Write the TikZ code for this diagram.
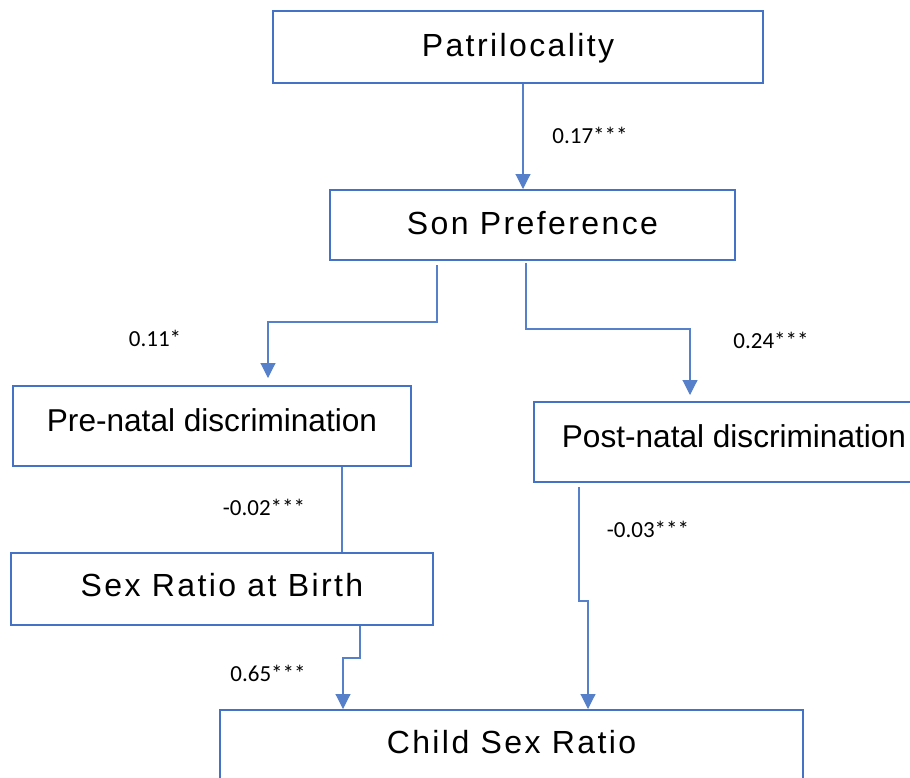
\documentclass[tikz,border=0pt]{standalone}
\usepackage{fontspec}
\setmainfont{Liberation Sans}
\newfontfamily\spacedfont[LetterSpace=7.5]{Liberation Sans}
\newfontfamily\labelfont{Carlito}
\usetikzlibrary{arrows.meta}
\definecolor{boxblue}{HTML}{4472C4}
\tikzset{
  caixa/.style={draw=boxblue,line width=2pt,inner sep=0pt,font=\fontsize{31.6}{32}\selectfont},
  largo/.style={caixa,font=\spacedfont\fontsize{32}{32}\selectfont},
  ligacao/.style={draw=boxblue!90,line width=1.1pt},
  seta/.style={ligacao,-{Triangle[width=15pt,length=15pt]}},
  coef/.style={font=\labelfont\fontsize{23}{23}\selectfont}
}
\begin{document}
\begin{tikzpicture}[x=1pt,y=-1pt]
\useasboundingbox (0,0) rectangle (910,777);
%caixas
  \node[largo,minimum width=490pt,minimum height=72pt,text height=23pt,text depth=4pt] (patri) at (518,47) {Patrilocality};
  \node[largo,minimum width=405pt,minimum height=70pt,text height=23pt,text depth=5pt] (son) at (532.5,225) {Son Preference};
  \node[caixa,minimum width=398pt,minimum height=80pt,text height=23pt,text depth=12pt] (pre) at (212,426) {Pre-natal discrimination};
  \node[caixa,minimum width=400pt,minimum height=80pt,text height=23pt,text depth=12pt] (post) at (734,442) {Post-natal discrimination};
  \node[largo,minimum width=422pt,minimum height=72pt,text height=23pt,text depth=8pt] (sexratio) at (222,589) {Sex Ratio at Birth};
  \node[largo,minimum width=583pt,minimum height=72pt,text height=23pt,text depth=8pt] (child) at (511.5,746) {Child Sex Ratio};
%ligacoes
  \draw[seta] ([xshift=5pt]patri.south) -- ([xshift=5pt]patri.south |- son.north);
  \draw[seta,shorten <=4pt,shorten >=7pt] ([xshift=-95.5pt]son.south) -- ++(0,61) -| ([xshift=56pt]pre.north);
  \draw[seta,shorten <=2pt,shorten >=6pt] ([xshift=-6.5pt]son.south) -- ++(0,68) -| ([xshift=-44pt]post.north);
  \draw[ligacao] ([xshift=130pt]pre.south) -- ([xshift=130pt]pre.south |- sexratio.north);
  \draw[seta,shorten <=4pt] ([xshift=-155pt]post.south) -- ++(0,118) -| ([xshift=76.5pt]child.north);
  \draw[seta] ([xshift=138pt]sexratio.south) -- ++(0,32) -| ([xshift=-168.5pt]child.north);
%coeficientes
  \node[coef] (c1) at (590,135) {0.17***};
  \node[coef] (c2) at (155,338) {0.11*};
  \node[coef] (c3) at (771,340) {0.24***};
  \node[coef] (c4) at (264,507) {-0.02***};
  \node[coef] (c5) at (648,529) {-0.03***};
  \node[coef] (c6) at (268,673) {0.65***};
\end{tikzpicture}
\end{document}
